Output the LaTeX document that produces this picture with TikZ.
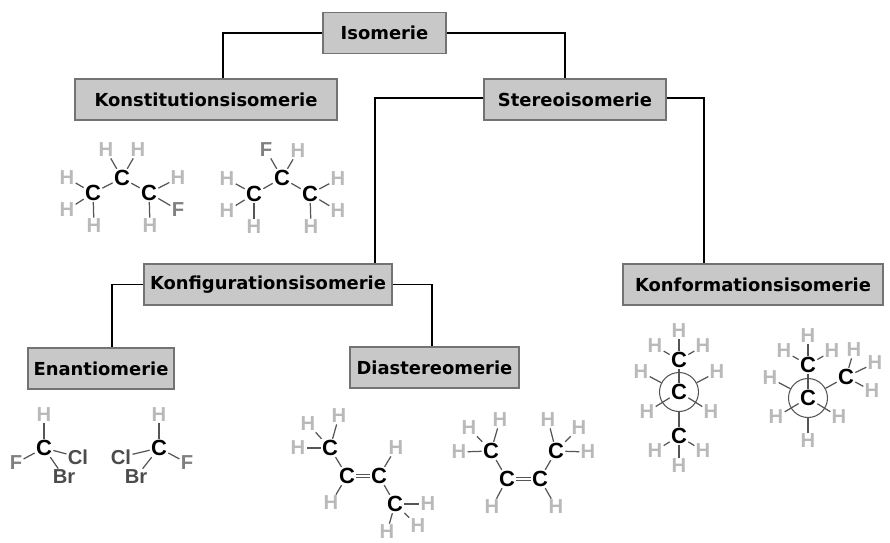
\documentclass[tikz,border=0pt]{standalone}
\usepackage{fontspec}
\setmainfont{DejaVu Sans}
\newfontfamily\molfont{Liberation Sans}
\definecolor{boxgray}{RGB}{200,200,200}
\definecolor{hgray}{RGB}{185,185,185}
\definecolor{bondgray}{RGB}{85,85,85}
\tikzset{
  klasse/.style={draw=gray!90!black,fill=boxgray,line width=.7pt,minimum height=.82cm,inner sep=0pt,font=\bfseries\fontsize{10.2}{11}\selectfont},
  link/.style={black,line width=1.1pt},
  atom/.style={inner sep=.6pt,font=\molfont\bfseries\fontsize{11.5}{12}\selectfont},
  catom/.style={atom,black,font=\molfont\bfseries\fontsize{12.5}{13}\selectfont},
  hatom/.style={atom,text=hgray},
  fatom/.style={atom,text=gray},
  xatom/.style={atom,text=black!70},
  bond/.style={bondgray,line width=.7pt},
  ring/.style={draw=bondgray,circle,line width=.6pt,minimum size=.78cm,inner sep=0pt}
}
\begin{document}
\begin{tikzpicture}[x=.02cm,y=-.02cm]
  \useasboundingbox (0,0) rectangle (890,542);

  % Klassen
  \node[klasse,minimum width=2.46cm] (iso) at (384.5,33) {Isomerie};
  \node[klasse,minimum width=5.24cm] (kons) at (206,99.5) {Konstitutionsisomerie};
  \node[klasse,minimum width=3.64cm] (stereo) at (575,99.5) {Stereoisomerie};
  \node[klasse,minimum width=4.96cm] (konfig) at (268,284.5) {Konfigurationsisomerie};
  \node[klasse,minimum width=5.20cm] (konform) at (753,284.5) {Konformationsisomerie};
  \node[klasse,minimum width=2.92cm] (enant) at (101,368.5) {Enantiomerie};
  \node[klasse,minimum width=3.38cm] (dia) at (434.5,367.5) {Diastereomerie};

  % Verbindungen
  \draw[link] (iso.west) -| ([xshift=.34cm]kons.north);
  \draw[link] (iso.east) -| ([xshift=-.2cm]stereo.north);
  \draw[link] ([yshift=.03cm]stereo.west) -| ([xshift=2.14cm]konfig.north);
  \draw[link] ([yshift=.03cm]stereo.east) -| ([xshift=-.98cm]konform.north);
  \draw[link] (konfig.west) -| ([xshift=.22cm]enant.north);
  \draw[link] (konfig.east) -| ([xshift=-.05cm]dia.north);

  % Konstitution, links
  \foreach \n/\px/\py in {a1/93/193,a2/122/178,a3/149/193}
    \node[catom] (\n) at (\px,\py) {C};
  \foreach \n/\px/\py in {h1/67/178,h2/67/210,h3/94/226,h4/106/150,h5/138/150,h6/178/178,h7/150/226}
    \node[hatom] (\n) at (\px,\py) {H};
  \node[fatom] (f1) at (178,210) {F};
  \foreach \p/\q in {a1/a2,a2/a3,a1/h1,a1/h2,a1/h3,a2/h4,a2/h5,a3/h6,a3/h7,a3/f1}
    \draw[bond] (\p) -- (\q);

  % Konstitution, rechts
  \foreach \n/\px/\py in {b1/254/194,b2/282/178,b3/310/194}
    \node[catom] (\n) at (\px,\py) {C};
  \foreach \n/\px/\py in {i1/227/179,i2/227/211,i3/254/227,i4/298/151,i5/338/179,i6/338/211,i7/311/227}
    \node[hatom] (\n) at (\px,\py) {H};
  \node[fatom] (f2) at (266,150) {F};
  \foreach \p/\q in {b1/b2,b2/b3,b1/i1,b1/i2,b1/i3,b2/f2,b2/i4,b3/i5,b3/i6,b3/i7}
    \draw[bond] (\p) -- (\q);

  % Enantiomere
  \node[catom] (c1) at (44,448) {C};
  \node[hatom] (j1) at (44,415) {H};
  \node[fatom] (f3) at (16,463) {F};
  \node[xatom] (cl1) at (78,457) {Cl};
  \node[xatom] (br1) at (64,477) {Br};
  \node[catom] (c2) at (159,448) {C};
  \node[hatom] (j2) at (159,415) {H};
  \node[fatom] (f4) at (187,463) {F};
  \node[xatom] (cl2) at (121,457) {Cl};
  \node[xatom] (br2) at (136,477) {Br};
  \foreach \p/\q in {c1/j1,c1/f3,c1/cl1,c1/br1,c2/j2,c2/f4,c2/cl2,c2/br2}
    \draw[bond] (\p) -- (\q);

  % Diastereomere, links
  \foreach \n/\px/\py in {d1/330/448,d2/347/476,d3/379/476,d4/395/504}
    \node[catom] (\n) at (\px,\py) {C};
  \foreach \n/\px/\py in {k1/298/448,k2/308/424,k3/339/416,k4/396/448,k5/331/503,k6/428/504,k7/418/526,k8/387/532}
    \node[hatom] (\n) at (\px,\py) {H};
  \foreach \p/\q in {d1/d2,d3/d4,d1/k1,d1/k2,d1/k3,d3/k4,d2/k5,d4/k6,d4/k7,d4/k8}
    \draw[bond] (\p) -- (\q);
  \draw[bond,double,double distance=1.3pt,line width=.5pt] (d2) -- (d3);

  % Diastereomere, rechts
  \foreach \n/\px/\py in {e1/491/451,e2/507/479,e3/540/479,e4/556/451}
    \node[catom] (\n) at (\px,\py) {C};
  \foreach \n/\px/\py in {l1/459/452,l2/469/428,l3/500/420,l4/492/507,l5/556/507,l6/548/420,l7/579/428,l8/588/452}
    \node[hatom] (\n) at (\px,\py) {H};
  \foreach \p/\q in {e1/e2,e3/e4,e1/l1,e1/l2,e1/l3,e2/l4,e3/l5,e4/l6,e4/l7,e4/l8}
    \draw[bond] (\p) -- (\q);
  \draw[bond,double,double distance=1.3pt,line width=.5pt] (e2) -- (e3);

  % Newman, links
  \node[ring] (r1) at (679,392) {};
  \foreach \n/\px/\py in {g1/679/360,g2/679/392,g3/679/436}
    \node[catom] (\n) at (\px,\py) {C};
  \foreach \n/\px/\py in {m1/679/331,m2/655/346,m3/703/346,m4/641/372,m5/717/372,m6/647/412,m7/711/412,m8/655/451,m9/703/451,m10/679/466}
    \node[hatom] (\n) at (\px,\py) {H};
  \foreach \p/\q in {g1/g2,g1/m1,g1/m2,g1/m3,g2/m6,g2/m7,g3/m8,g3/m9,g3/m10,m4/r1,m5/r1,g3/r1}
    \draw[bond] (\p) -- (\q);

  % Newman, rechts
  \node[ring] (r2) at (808,398) {};
  \foreach \n/\px/\py in {o1/808/365,o2/808/398,o3/846/377}
    \node[catom] (\n) at (\px,\py) {C};
  \foreach \n/\px/\py in {n1/808/336,n2/784/351,n3/832/351,n4/770/378,n5/854/350,n6/875/363,n7/872/391,n8/776/417,n9/839/417,n10/808/441}
    \node[hatom] (\n) at (\px,\py) {H};
  \foreach \p/\q in {o1/o2,o1/n1,o1/n2,o1/n3,o3/n5,o3/n6,o3/n7,o2/n8,o2/n9,n4/r2,o3/r2,n10/r2}
    \draw[bond] (\p) -- (\q);
\end{tikzpicture}
\end{document}
